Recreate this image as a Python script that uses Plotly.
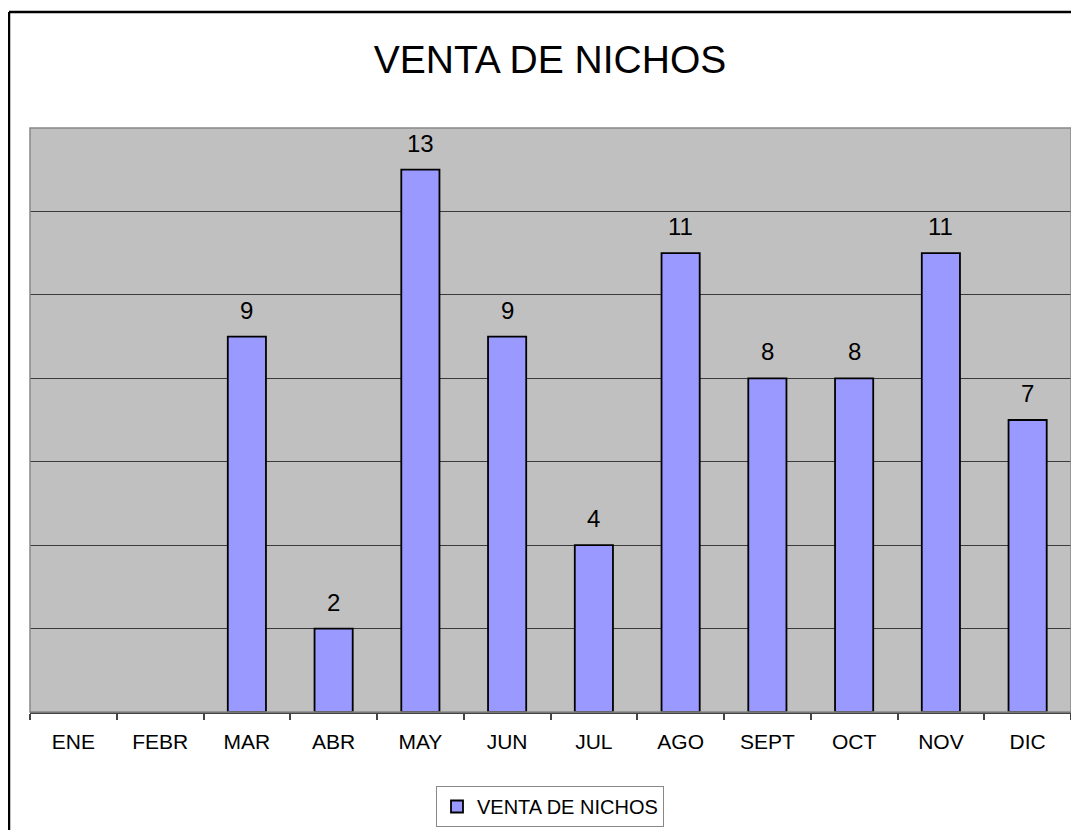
import plotly.graph_objects as go

months = ["ENE", "FEBR", "MAR", "ABR", "MAY", "JUN", "JUL", "AGO", "SEPT", "OCT", "NOV", "DIC"]
ventas = [None, None, 9, 2, 13, 9, 4, 11, 8, 8, 11, 7]
series_name = "VENTA DE NICHOS"
title_text = "VENTA DE NICHOS"

FONT = "Liberation Sans, Arial, sans-serif"

# page has an 8px body margin, so the figure is drawn 8px smaller / offset
OFF = 8
W, H = 1079 - OFF, 830 - OFF
L, R, T, B = 30 - OFF, 8, 128 - OFF, 118
pw, ph = W - L - R, H - T - B

fig = go.Figure()
fig.add_trace(go.Bar(
    x=months, y=ventas, name=series_name,
    marker=dict(color="#9999FF", line=dict(color="#000000", width=1.8)),
    showlegend=True,
))

annotations = []
for m, v in zip(months, ventas):
    if v is None:
        continue
    annotations.append(dict(
        x=m, y=v, xref="x", yref="y", text=str(v), showarrow=False,
        yanchor="bottom", yshift=11, font=dict(size=24, color="#000", family=FONT),
    ))

bx = (9 - OFF - L) / pw
by = (H - B - (12 - OFF)) / ph
shapes = [
    dict(type="rect", xref="paper", yref="paper", x0=0, x1=1, y0=0, y1=1,
         line=dict(color="#888888", width=1.5), layer="above"),
    dict(type="line", xref="paper", yref="paper", x0=bx, x1=bx, y0=by, y1=-0.4,
         line=dict(color="#000000", width=2.5)),
    dict(type="line", xref="paper", yref="paper", x0=bx, x1=1.1, y0=by, y1=by,
         line=dict(color="#000000", width=2.5)),
]

fig.update_layout(
    width=W, height=H,
    margin=dict(l=L, r=R, t=T, b=B, pad=0, autoexpand=False),
    paper_bgcolor="#FFFFFF", plot_bgcolor="#C0C0C0",
    font=dict(family=FONT, color="#000"),
    title=dict(text=title_text, x=(550 - OFF) / W, xanchor="center",
               y=1 - (59 - OFF) / H, yanchor="middle",
               font=dict(size=39, family=FONT, color="#000")),
    bargap=0.56,
    showlegend=True,
    legend=dict(orientation="h", x=(550 - OFF - L) / pw, xanchor="center",
                y=(H - B - (786 - OFF)) / ph, yanchor="top",
                bordercolor="#888888", borderwidth=1, bgcolor="#FFFFFF",
                itemwidth=30,
                font=dict(size=20, family=FONT, color="#000")),
    annotations=annotations,
    shapes=shapes,
)
fig.update_xaxes(
    type="category", tickson="boundaries", ticks="outside", ticklen=6,
    tickcolor="#444444", tickwidth=1.5,
    showline=True, linecolor="#444444", linewidth=2,
    showgrid=False, tickfont=dict(size=21, family=FONT, color="#000"),
    ticklabelstandoff=10, automargin=False,
)
fig.update_yaxes(
    range=[0, 14], dtick=2, showticklabels=False, showgrid=True,
    gridcolor="#3a3a3a", gridwidth=1.2, zeroline=False, ticks="",
    automargin=False,
)

fig.write_html("out.html")
